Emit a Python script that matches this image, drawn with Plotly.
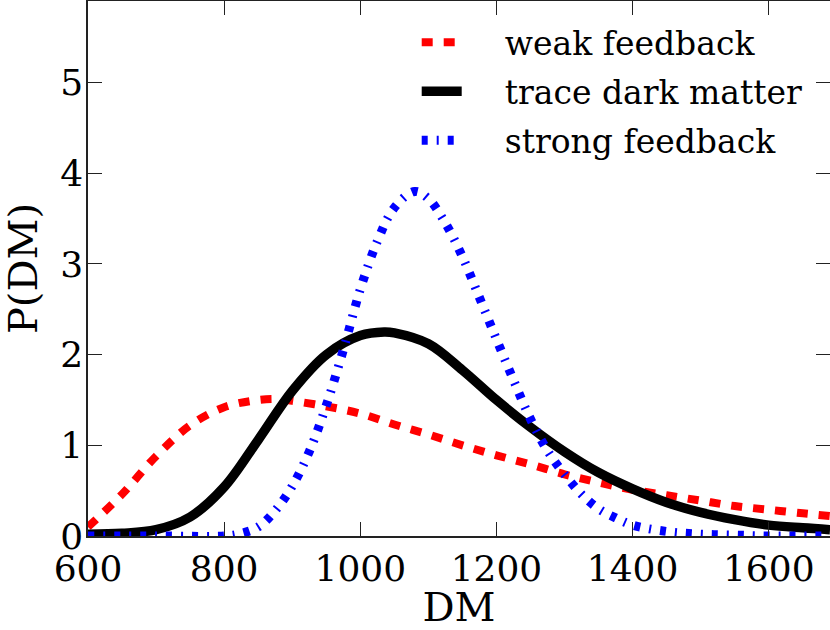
import plotly.graph_objects as go

# Weak feedback (red dashed)
weak_dm = [600, 650, 700, 750, 800, 850, 880, 900, 950, 1000, 1050, 1100, 1150, 1200, 1250,
           1300, 1350, 1400, 1450, 1500, 1550, 1600, 1650, 1690]
weak_p = [0.10, 0.46, 0.88, 1.22, 1.42, 1.50, 1.51, 1.49, 1.43, 1.35, 1.23, 1.12, 1.00, 0.89,
          0.79, 0.68, 0.59, 0.51, 0.45, 0.39, 0.33, 0.29, 0.25, 0.22]

# Trace dark matter (black solid)
dark_dm = [600, 650, 700, 750, 800, 850, 900, 950, 1000, 1035, 1050, 1100, 1150, 1200, 1250,
           1300, 1350, 1400, 1450, 1500, 1550, 1600, 1650, 1690]
dark_p = [0.02, 0.03, 0.07, 0.21, 0.54, 1.06, 1.60, 2.00, 2.21, 2.25, 2.24, 2.12, 1.83, 1.50,
          1.20, 0.93, 0.70, 0.52, 0.37, 0.26, 0.18, 0.12, 0.09, 0.07]

# Strong feedback (blue dash-dot)
strong_dm = [600, 700, 800, 820, 850, 875, 900, 925, 950, 975, 1000, 1025, 1050, 1080, 1100,
             1125, 1150, 1175, 1200, 1225, 1250, 1275, 1300, 1325, 1350, 1375, 1400, 1450,
             1500, 1550, 1600, 1690]
strong_p = [0.0, 0.0, 0.0, 0.02, 0.10, 0.28, 0.55, 0.93, 1.44, 2.05, 2.72, 3.25, 3.62, 3.80,
            3.72, 3.45, 3.08, 2.63, 2.17, 1.72, 1.29, 0.94, 0.68, 0.46, 0.30, 0.20, 0.12, 0.05,
            0.02, 0.01, 0.0, 0.0]

x_ticks = [600, 800, 1000, 1200, 1400, 1600]
y_ticks = [0, 1, 2, 3, 4, 5]

FONT = "DejaVu Serif"
SP = "\u00a0\u00a0\u00a0\u2009"

fig = go.Figure()
fig.add_trace(go.Scatter(x=weak_dm, y=weak_p, mode="lines", name=SP + "weak feedback",
                         legendgroup="a",
                         line=dict(color="#ff0000", width=8, dash="11px,11px", shape="spline")))
fig.add_trace(go.Scatter(x=dark_dm, y=dark_p, mode="lines", name=SP + "trace dark matter",
                         legendgroup="b",
                         line=dict(color="#000000", width=9.5, shape="spline")))
fig.add_trace(go.Scatter(x=strong_dm, y=strong_p, mode="lines", name=SP + "strong feedback",
                         legendgroup="c",
                         line=dict(color="#0000ff", width=9, dash="6px,9px,2px,9px", shape="spline")))

axis_common = dict(
    showgrid=False, zeroline=False, showline=True, linecolor="#222222", linewidth=1.5,
    mirror="ticks", ticks="inside", ticklen=14, tickwidth=1.2, tickcolor="#222222",
    tickfont=dict(family=FONT, size=36, color="black"), automargin=False,
)

fig.update_xaxes(range=[600, 1690], tickvals=x_ticks, ticktext=[str(v) for v in x_ticks],
                 title=dict(text="DM", font=dict(family=FONT, size=40, color="black"), standoff=7),
                 **axis_common)
fig.update_yaxes(range=[0, 5.9], tickvals=y_ticks, ticktext=[str(v) for v in y_ticks],
                 ticklabelstandoff=-4,
                 title=dict(text="P(DM)", font=dict(family=FONT, size=40, color="black"), standoff=14),
                 **axis_common)

fig.update_layout(
    width=830, height=630,
    margin=dict(l=88, r=0, t=1, b=94, autoexpand=False),
    plot_bgcolor="white", paper_bgcolor="white",
    font=dict(family=FONT, color="black"),
    legend=dict(x=0.443, y=0.975, xanchor="left", yanchor="top", bgcolor="rgba(0,0,0,0)",
                font=dict(family=FONT, size=33, color="black"), tracegroupgap=3,
                itemwidth=40),
)

fig.write_html("out.html", config={"displayModeBar": False},
               post_script="document.body.style.margin='0';document.documentElement.style.margin='0';")
